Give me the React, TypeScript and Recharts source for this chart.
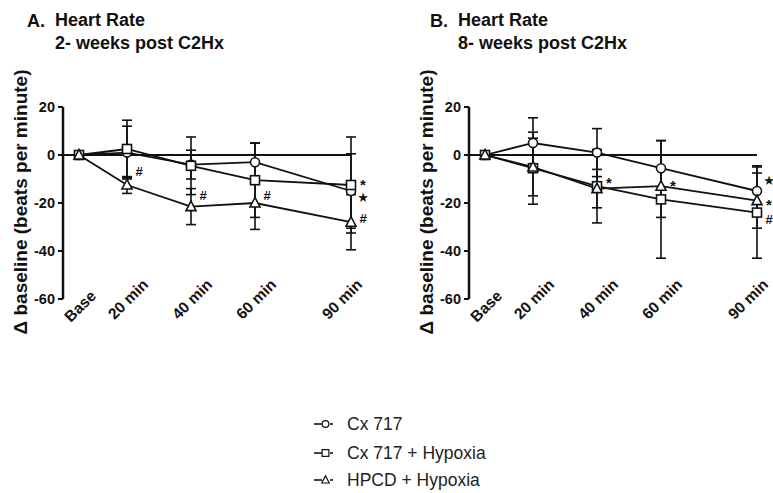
import React from "react";
import {
  ComposedChart,
  Line,
  XAxis,
  YAxis,
  ReferenceLine,
  ReferenceDot,
  ErrorBar,
} from "recharts";

const FONT = "'Liberation Sans', Arial, sans-serif";
const INK = "#111";

// time points in minutes; Base is drawn just right of the y axis
const times = [5, 20, 40, 60, 90];
const timeLabels = ["Base", "20 min", "40 min", "60 min", "90 min"];
const yTicks = [-60, -40, -20, 0, 20];
const seriesNames = ["Cx 717", "Cx 717 + Hypoxia", "HPCD + Hypoxia"];

// 2 weeks post C2Hx
const cxWk2 = [0, 1, -4, -3, -15];
const cxWk2Err = [0, 11, 6, 8, 15.5];
const hypWk2 = [0, 2.5, -4.5, -10.5, -12.5];
const hypWk2Err = [0, 12, 12, 15.5, 20];
const hpcdWk2 = [0, -12.5, -21.5, -20, -28];
const hpcdWk2Err = [0, 3.5, 7.5, 11, 11.5];

// 8 weeks post C2Hx
const cxWk8 = [0, 5, 1, -5.5, -15];
const cxWk8Err = [0, 10.5, 10, 11.5, 10.5];
const hypWk8 = [0, -5.5, -13, -18.5, -24];
const hypWk8Err = [0, 15, 15.3, 24.5, 19];
const hpcdWk8 = [0, -5, -14, -13, -19];
const hpcdWk8Err = [0, 12, 8, 13, 11.5];

// significance marks: time point, value, symbol
const marksWk2 = [
  { t: 20, v: -7, mark: "#" },
  { t: 40, v: -17, mark: "#" },
  { t: 60, v: -17, mark: "#" },
  { t: 90, v: -10, mark: "*" },
  { t: 90, v: -17.5, mark: "★" },
  { t: 90, v: -26.5, mark: "#" },
];
const marksWk8 = [
  { t: 40, v: -9.5, mark: "*" },
  { t: 60, v: -10.5, mark: "*" },
  { t: 90, v: -10.5, mark: "★" },
  { t: 90, v: -18.5, mark: "*" },
  { t: 90, v: -27, mark: "#" },
];

function buildRows(
  cx: number[], cxErr: number[],
  hyp: number[], hypErr: number[],
  hpcd: number[], hpcdErr: number[]
) {
  return times.map((t, i) => ({
    t,
    cx: cx[i], cxErr: cxErr[i],
    hyp: hyp[i], hypErr: hypErr[i],
    hpcd: hpcd[i], hpcdErr: hpcdErr[i],
  }));
}

const rowsWk2 = buildRows(cxWk2, cxWk2Err, hypWk2, hypWk2Err, hpcdWk2, hpcdWk2Err);
const rowsWk8 = buildRows(cxWk8, cxWk8Err, hypWk8, hypWk8Err, hpcdWk8, hpcdWk8Err);

type Shape = "circle" | "square" | "triangle";

function Marker({ shape, cx, cy }: { shape: Shape; cx: number; cy: number }) {
  const common = { fill: "#fff", stroke: INK, strokeWidth: 1.6 };
  if (shape === "circle") return <circle cx={cx} cy={cy} r={4.5} {...common} />;
  if (shape === "square") {
    return <rect x={cx - 4.5} y={cy - 4.5} width={9} height={9} {...common} />;
  }
  const pts = `${cx},${cy - 5.5} ${cx - 5},${cy + 4} ${cx + 5},${cy + 4}`;
  return <polygon points={pts} {...common} />;
}

const dotFor = (shape: Shape) => (p: any) =>
  p.cx == null ? <g key={`e-${shape}-${p.index}`} /> : (
    <g key={`${shape}-${p.index}`}>
      <Marker shape={shape} cx={p.cx} cy={p.cy} />
    </g>
  );

// rotated time labels; the last one is pulled left so it stays clear of the edge
function TimeTick({ x, y, payload }: any) {
  const idx = times.indexOf(payload.value);
  const label = timeLabels[idx] ?? "";
  const cx = Math.min(x + 1, 342);
  const cy = y + (idx === 0 ? 7 : 0);
  return (
    <text
      x={cx}
      y={cy}
      transform={`rotate(-45 ${cx} ${cy})`}
      textAnchor="middle"
      dominantBaseline="central"
      fontFamily={FONT}
      fontWeight={700}
      fontSize={15.5}
      fill={INK}
    >
      {label}
    </text>
  );
}

function markShape(mark: string) {
  return (p: any) => {
    const star = mark === "★";
    const ast = mark === "*";
    return (
      <text
        x={p.cx + 12}
        y={p.cy + (ast ? 5 : 0)}
        textAnchor="middle"
        dominantBaseline="central"
        fontFamily={star ? "'DejaVu Sans', sans-serif" : FONT}
        fontWeight={700}
        fontSize={star ? 13 : ast ? 15 : 13}
        fill={INK}
      >
        {mark}
      </text>
    );
  };
}

function Panel({ rows, marks, width, rightPad }: { rows: any[]; marks: typeof marksWk2; width: number; rightPad: number }) {
  return (
    <ComposedChart
      width={width}
      height={360}
      data={rows}
      margin={{ top: 107, right: rightPad, bottom: 11, left: 0 }}
    >
      <XAxis
        dataKey="t"
        type="number"
        domain={[0, 90]}
        ticks={times}
        axisLine={false}
        tickLine={false}
        tickSize={0}
        tickMargin={0}
        height={50}
        interval={0}
        tick={<TimeTick />}
      />
      <YAxis
        type="number"
        domain={[-60, 20]}
        ticks={yTicks}
        width={63}
        interval={0}
        axisLine={{ stroke: INK, strokeWidth: 2.5 }}
        tickLine={{ stroke: INK, strokeWidth: 2 }}
        tickSize={5}
        tickMargin={3}
        tick={{ fill: INK, fontSize: 14.5, fontWeight: 700, fontFamily: FONT }}
      />
      <ReferenceLine y={0} stroke={INK} strokeWidth={2.2} />
      <Line
        dataKey="cx"
        type="linear"
        stroke={INK}
        strokeWidth={1.8}
        dot={dotFor("circle")}
        activeDot={false}
        isAnimationActive={false}
      >
        <ErrorBar dataKey="cxErr" direction="y" width={5} stroke={INK} strokeWidth={1.6} />
      </Line>
      <Line
        dataKey="hyp"
        type="linear"
        stroke={INK}
        strokeWidth={1.8}
        dot={dotFor("square")}
        activeDot={false}
        isAnimationActive={false}
      >
        <ErrorBar dataKey="hypErr" direction="y" width={5} stroke={INK} strokeWidth={1.6} />
      </Line>
      <Line
        dataKey="hpcd"
        type="linear"
        stroke={INK}
        strokeWidth={1.8}
        dot={dotFor("triangle")}
        activeDot={false}
        isAnimationActive={false}
      >
        <ErrorBar dataKey="hpcdErr" direction="y" width={5} stroke={INK} strokeWidth={1.6} />
      </Line>
      {marks.map((m, i) => (
        <ReferenceDot key={i} x={m.t} y={m.v} r={0} shape={markShape(m.mark)} />
      ))}
    </ComposedChart>
  );
}

function Title({ x, letter, weeks }: { x: number; letter: string; weeks: string }) {
  return (
    <g fontFamily={FONT} fontWeight={700} fill={INK}>
      <text x={x} y={27} fontSize={18}>{letter}</text>
      <text x={x + 28} y={26} fontSize={18}>Heart Rate</text>
      <text x={x + 28} y={49} fontSize={18}>{weeks}</text>
    </g>
  );
}

function YLabel({ x }: { x: number }) {
  return (
    <text
      transform={`translate(${x} 202) rotate(-90)`}
      textAnchor="middle"
      dominantBaseline="central"
      fontFamily={FONT}
      fontWeight={700}
      fontSize={19}
      fill={INK}
    >
      Δ baseline (beats per minute)
    </text>
  );
}

const legendShapes: Shape[] = ["circle", "square", "triangle"];
const legendRows = [424, 453, 480];

export default function App() {
  return (
    <div style={{ position: "absolute", left: 0, top: 0, width: 773, height: 493, background: "#fff", overflow: "hidden" }}>
      <div style={{ position: "absolute", left: 0, top: 0 }}>
        <Panel rows={rowsWk2} marks={marksWk2} width={390} rightPad={39} />
      </div>
      <div style={{ position: "absolute", left: 406, top: 0 }}>
        <Panel rows={rowsWk8} marks={marksWk8} width={367} rightPad={16} />
      </div>
      <svg width={773} height={493} style={{ position: "absolute", left: 0, top: 0, pointerEvents: "none" }}>
        <Title x={27} letter="A." weeks="2- weeks post C2Hx" />
        <Title x={430} letter="B." weeks="8- weeks post C2Hx" />
        <YLabel x={20} />
        <YLabel x={426} />
        {seriesNames.map((name, i) => {
          const y = legendRows[i];
          return (
            <g key={name}>
              <line x1={314} x2={322} y1={y} y2={y} stroke={INK} strokeWidth={1.6} />
              <line x1={330} x2={333} y1={y} y2={y} stroke={INK} strokeWidth={1.6} />
              <g transform={`translate(${325.5} ${y}) scale(0.75) translate(${-325.5} ${-y})`}>
                <Marker shape={legendShapes[i]} cx={325.5} cy={y} />
              </g>
              <text x={347} y={y} dominantBaseline="central" fontFamily={FONT} fontSize={17.5} fill="#222">
                {name}
              </text>
            </g>
          );
        })}
      </svg>
    </div>
  );
}
